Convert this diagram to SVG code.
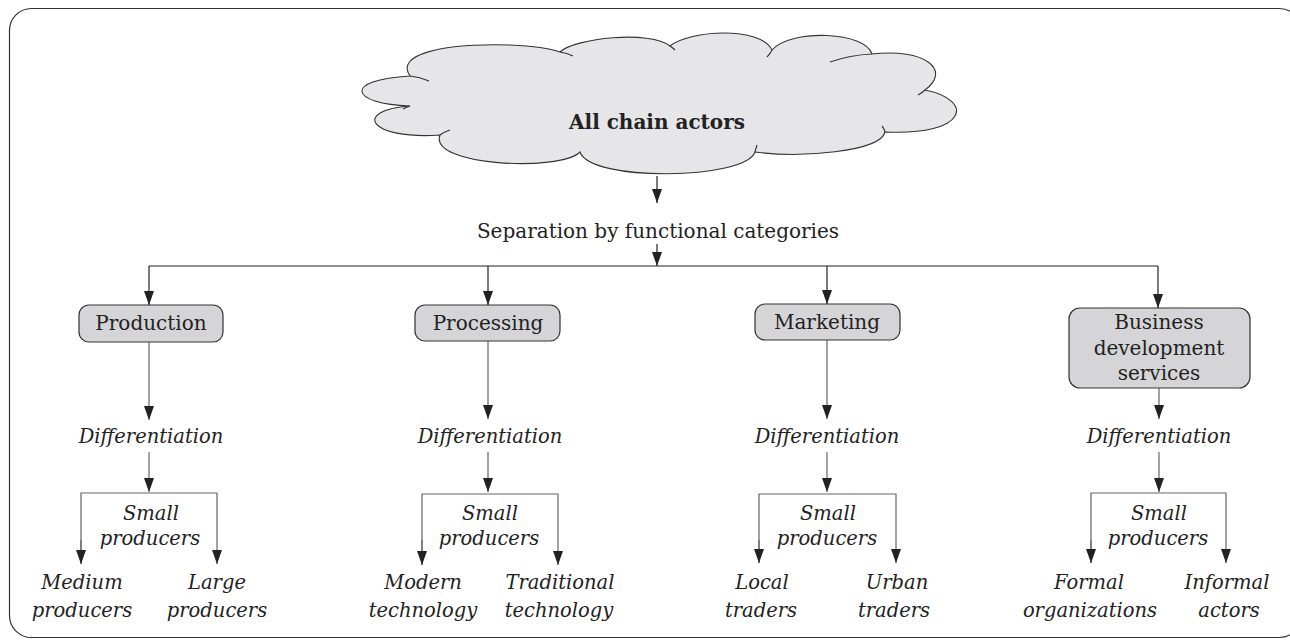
<svg xmlns="http://www.w3.org/2000/svg" width="1290" height="640" viewBox="0 0 1290 640">
  <style>
    .t { font-family: "DejaVu Serif", "Liberation Serif", serif; fill: #222; text-anchor: middle; }
    .box-t { font-size: 20px; }
    .it { font-size: 19.5px; font-style: italic; }
    .box { fill: #d5d5d7; stroke: #333; stroke-width: 1.2; }
    .ln { fill: none; stroke: #222; stroke-width: 1.2; }
    .lg { fill: none; stroke: #666; stroke-width: 1.2; }
    .cloud { fill: #e6e6e8; stroke: #333; stroke-width: 1.1; }
    .tail { fill: none; stroke: #333; stroke-width: 1.1; }
  </style>
  <defs>
    <marker id="arr" viewBox="0 0 14 10" refX="14" refY="5" markerWidth="14" markerHeight="10" markerUnits="userSpaceOnUse" orient="auto">
      <path d="M0,0 L14,5 L0,10 Z" fill="#222"/>
    </marker>
  </defs>

  <!-- outer frame -->
  <rect x="9.5" y="8.5" width="1292" height="629" rx="22" fill="#fff" stroke="#333" stroke-width="1.2"/>

  <!-- cloud -->
  <g id="all-chain-actors">
    <path class="cloud" d="M410,106 C350,104 342,80 410,76 C395,55 440,43 510,45 C535,46 552,49 560,52 C575,38 650,30 670,46 C690,30 760,26 772,50 C792,28 866,32 872,54 C925,48 952,70 925,90 C975,100 968,136 885,132 C880,152 800,158 755,152 C745,180 590,182 580,152 C560,172 428,166 440,135 C368,140 352,110 410,106 Z"/>
    <path class="tail" d="M410,76 Q420,77 429,81"/>
    <path class="tail" d="M560,52 Q567,53 573,56"/>
    <path class="tail" d="M670,46 Q673,48 675,50"/>
    <path class="tail" d="M772,50 Q770,54 767,57"/>
    <path class="tail" d="M872,54 Q850,55 830,62"/>
    <path class="tail" d="M925,90 Q922,93 918,95"/>
    <path class="tail" d="M885,132 Q884,128 882,126"/>
    <path class="tail" d="M755,152 Q756,148 757,145"/>
    <path class="tail" d="M440,135 Q444,132 450,130"/>
    <path class="tail" d="M410,106 Q407,107 403,109"/>
    <text class="t" x="657" y="129" font-size="20" font-weight="bold">All chain actors</text>
  </g>

  <g id="separation">
    <text class="t" x="658" y="238" font-size="20">Separation by functional categories</text>
  </g>

  <!-- category nodes -->
  <g id="production">
    <rect class="box" x="79" y="305" width="144" height="37" rx="10"/>
    <text class="t box-t" x="151" y="330">Production</text>
  </g>
  <g id="processing">
    <rect class="box" x="415" y="305" width="145" height="36" rx="10"/>
    <text class="t box-t" x="488" y="330">Processing</text>
  </g>
  <g id="marketing">
    <rect class="box" x="755" y="304" width="145" height="36" rx="10"/>
    <text class="t box-t" x="827" y="329">Marketing</text>
  </g>
  <g id="bds">
    <rect class="box" x="1069" y="308" width="181" height="80" rx="11"/>
    <text class="t box-t" x="1159" y="329">Business</text>
    <text class="t box-t" x="1159" y="355">development</text>
    <text class="t box-t" x="1159" y="380">services</text>
  </g>

  <!-- differentiation labels -->
  <g id="diff-1"><text class="t it" x="151" y="443">Differentiation</text></g>
  <g id="diff-2"><text class="t it" x="490" y="443">Differentiation</text></g>
  <g id="diff-3"><text class="t it" x="827" y="443">Differentiation</text></g>
  <g id="diff-4"><text class="t it" x="1159" y="443">Differentiation</text></g>

  <!-- small producers labels -->
  <g id="small-1"><text class="t it" x="151" y="520">Small</text><text class="t it" x="150" y="545">producers</text></g>
  <g id="small-2"><text class="t it" x="490" y="520">Small</text><text class="t it" x="489" y="545">producers</text></g>
  <g id="small-3"><text class="t it" x="828" y="520">Small</text><text class="t it" x="827" y="545">producers</text></g>
  <g id="small-4"><text class="t it" x="1159" y="520">Small</text><text class="t it" x="1158" y="545">producers</text></g>

  <!-- leaf labels -->
  <g id="medium"><text class="t it" x="82" y="589">Medium</text><text class="t it" x="82" y="617">producers</text></g>
  <g id="large"><text class="t it" x="217" y="589">Large</text><text class="t it" x="217" y="617">producers</text></g>
  <g id="modern"><text class="t it" x="423" y="589">Modern</text><text class="t it" x="423" y="617">technology</text></g>
  <g id="traditional"><text class="t it" x="560" y="589">Traditional</text><text class="t it" x="559" y="617">technology</text></g>
  <g id="local"><text class="t it" x="762" y="589">Local</text><text class="t it" x="761" y="617">traders</text></g>
  <g id="urban"><text class="t it" x="897" y="589">Urban</text><text class="t it" x="894" y="617">traders</text></g>
  <g id="formal"><text class="t it" x="1089" y="589">Formal</text><text class="t it" x="1090" y="617">organizations</text></g>
  <g id="informal"><text class="t it" x="1227" y="589">Informal</text><text class="t it" x="1229" y="617">actors</text></g>

  <!-- connectors -->
  <g id="connectors">
    <path class="ln" d="M657,176 V203" marker-end="url(#arr)"/>
    <path class="ln" d="M657,244 V266" marker-end="url(#arr)"/>
    <path class="ln" d="M149,266 H1158"/>
    <path class="ln" d="M149,266 V305" marker-end="url(#arr)"/>
    <path class="ln" d="M488,266 V305" marker-end="url(#arr)"/>
    <path class="ln" d="M827,266 V304" marker-end="url(#arr)"/>
    <path class="ln" d="M1158,266 V308" marker-end="url(#arr)"/>

    <path class="lg" d="M149,342 V420" marker-end="url(#arr)"/>
    <path class="lg" d="M488,341 V419" marker-end="url(#arr)"/>
    <path class="lg" d="M827,340 V419" marker-end="url(#arr)"/>
    <path class="lg" d="M1159,388 V419" marker-end="url(#arr)"/>

    <path class="lg" d="M149,452 V492" marker-end="url(#arr)"/>
    <path class="lg" d="M488,452 V492" marker-end="url(#arr)"/>
    <path class="lg" d="M827,452 V492" marker-end="url(#arr)"/>
    <path class="lg" d="M1159,452 V492" marker-end="url(#arr)"/>

    <path class="lg" d="M81,564 V493 H217 V564" marker-end="url(#arr)"/>
    <path class="lg" d="M422,565 V494 H558 V565" marker-end="url(#arr)"/>
    <path class="lg" d="M759,563 V494 H896 V563" marker-end="url(#arr)"/>
    <path class="lg" d="M1091,563 V493 H1226 V563" marker-end="url(#arr)"/>
    <path class="lg" d="M81,540 V564" marker-end="url(#arr)"/>
    <path class="lg" d="M422,540 V565" marker-end="url(#arr)"/>
    <path class="lg" d="M759,540 V563" marker-end="url(#arr)"/>
    <path class="lg" d="M1091,540 V563" marker-end="url(#arr)"/>
  </g>
</svg>
